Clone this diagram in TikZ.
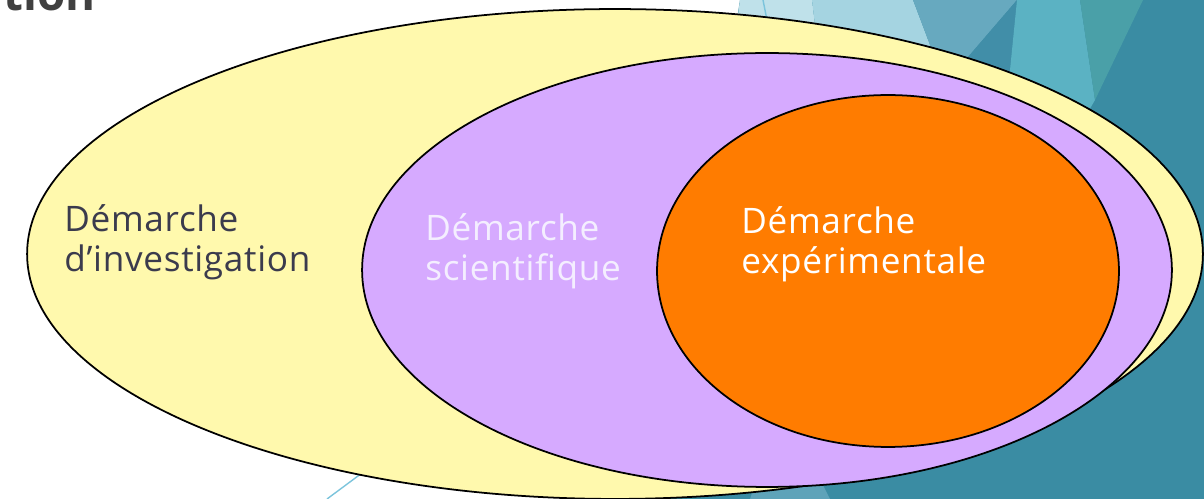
\documentclass[tikz,border=0pt]{standalone}
\usepackage{fontspec}
\setmainfont{Open Sans}
\usetikzlibrary{shapes.geometric}

\definecolor{setyellow}{HTML}{FFF9AD}
\definecolor{setpurple}{HTML}{D6AAFF}
\definecolor{setorange}{HTML}{FF7C00}
\definecolor{textdark}{HTML}{3B3B4D}
\definecolor{textlight}{HTML}{F4EEFF}
\definecolor{titlegray}{HTML}{404040}
\definecolor{bgdeep}{HTML}{3A8CA3}
\definecolor{bgpale}{HTML}{BFE1EA}
\definecolor{bglight}{HTML}{A5D4E1}
\definecolor{bgmid}{HTML}{67A9BF}
\definecolor{bgdark}{HTML}{418EA8}
\definecolor{bgcyan}{HTML}{5BB2C3}
\definecolor{bgsea}{HTML}{4AA0A8}
\definecolor{bgline}{HTML}{7CC4DC}

\begin{document}
\begin{tikzpicture}[x=0.02cm, y=-0.02cm,
	set/.style={ellipse, draw, line width=1pt, inner sep=0pt},
	setlabel/.style={align=left, anchor=base west, inner sep=0pt, font=\fontsize{20}{23}\selectfont\addfontfeature{LetterSpace=2}}]

\useasboundingbox (0,0) rectangle (1204,499);
\clip (0,0) rectangle (1204,499);

\fill[bgdeep] (740,0) -- (1204,0) -- (1204,499) -- (560,499) -- (700,250) -- cycle;
\fill[bgpale] (740,0) -- (812,0) -- (830,150) -- (720,150) -- cycle;
\fill[bglight] (812,0) -- (913,0) -- (930,45) -- (900,150) -- (830,150) -- cycle;
\fill[bgmid] (913,0) -- (1017,0) -- (968,57) -- (930,150) -- (900,150) -- (930,45) -- cycle;
\fill[bgdark] (968,57) -- (1017,0) -- (1010,70) -- (960,150) -- cycle;
\fill[bgcyan] (1017,0) -- (1080,0) -- (1095,100) -- (1060,160) -- (1000,160) -- (1010,70) -- cycle;
\fill[bgsea] (1080,0) -- (1143,0) -- (1095,100) -- cycle;
\fill[bgmid!80!bgdeep] (760,470) -- (800,440) -- (830,499) -- (750,499) -- cycle;
\draw[bgline, line width=0.8pt] (763,0) -- (775,60);
\draw[bgline, line width=0.8pt] (327,499) -- (420,430);

\node(title) [anchor=base east, inner sep=0pt, text=titlegray, font=\fontsize{26}{30}\selectfont\bfseries] at (96,11) {ation};

\node(investigation) [set, fill=setyellow, minimum width=23.52cm, minimum height=9.8cm] at (615,254) {};
\node(scientifique) [set, fill=setpurple, minimum width=16.2cm, minimum height=8.68cm] at (767,270) {};
\node(experimentale) [set, fill=setorange, minimum width=9.24cm, minimum height=7.04cm] at (888,271) {};

\node(investigationtext) [setlabel, text=textdark] at (64,272) {Démarche\\d’investigation};
\node(scientifiquetext) [setlabel, text=textlight] at (425,281) {Démarche\\scientifique};
\node(experimentaletext) [setlabel, text=white] at (741,274) {Démarche\\expérimentale};

\end{tikzpicture}
\end{document}
